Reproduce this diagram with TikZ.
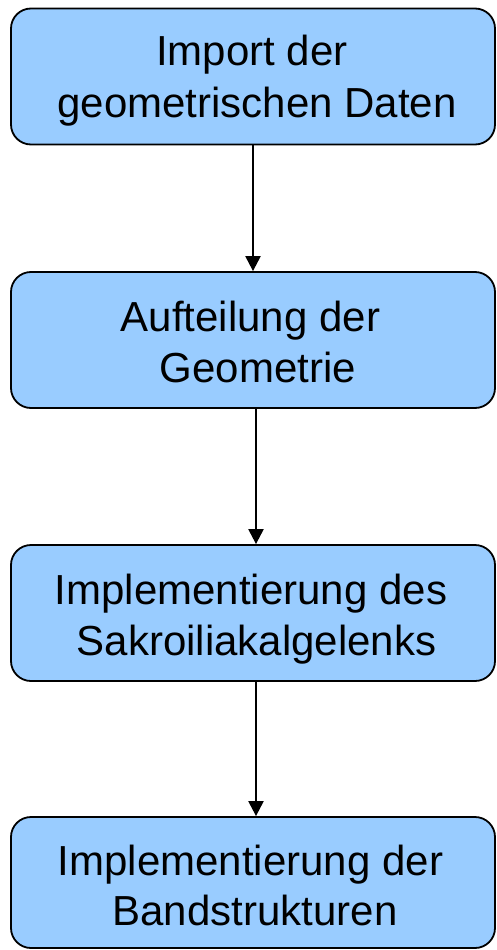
\documentclass[tikz,border=0pt]{standalone}
\usepackage{fontspec}
\setmainfont{Liberation Sans}
\usetikzlibrary{arrows.meta}
\begin{document}
\begin{tikzpicture}[x=1pt,y=-1pt,
  stepbox/.style={draw=black, line width=1.8pt, fill={rgb,255:red,153;green,204;blue,255},
    rounded corners=20pt, minimum width=484pt, minimum height=136pt, inner sep=0pt},
  steptext/.style={anchor=base, inner sep=0pt, font=\fontsize{42}{50}\selectfont},
  flow/.style={draw=black, line width=2.2pt, -{Triangle[length=15pt,width=15pt]}}]
  \useasboundingbox (0,0) rectangle (496,950);
  % process boxes
  \node[stepbox] (import) at (253,76.5) {};
  \node[stepbox] (split) at (253,340) {};
  \node[stepbox] (joint) at (253,613) {};
  \node[stepbox, minimum height=131pt] (bands) at (253,882.5) {};
  % box captions
  \node[steptext] (import1) at (252,66) {Import der};
  \node[steptext] (import2) at (257,117) {geometrischen Daten};
  \node[steptext] (split1) at (250.5,331) {Aufteilung der};
  \node[steptext] (split2) at (258,382) {Geometrie};
  \node[steptext] (joint1) at (251,604) {Implementierung des};
  \node[steptext] (joint2) at (256.5,655) {Sakroiliakalgelenks};
  \node[steptext] (bands1) at (250.5,875) {Implementierung der};
  \node[steptext] (bands2) at (255,925) {Bandstrukturen};
  % flow arrows
  \draw[flow] (import.south) -- (split.north);
  \draw[flow] ([xshift=3pt]split.south) -- ([xshift=3pt]joint.north);
  \draw[flow] ([xshift=3pt]joint.south) -- ([xshift=3pt]bands.north);
\end{tikzpicture}
\end{document}
